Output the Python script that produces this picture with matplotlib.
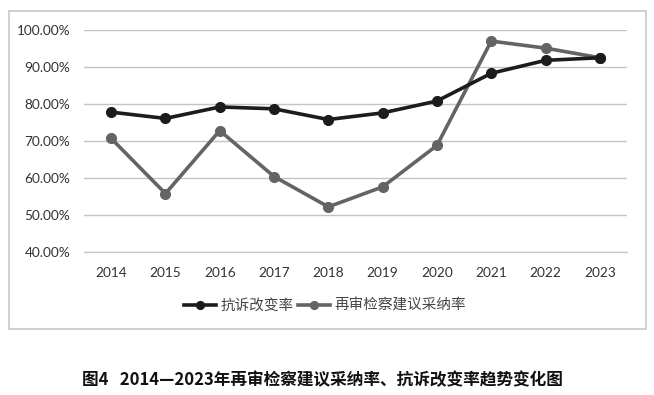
import matplotlib
matplotlib.use("Agg")
import matplotlib.pyplot as plt
from matplotlib.patches import Rectangle
from matplotlib.ticker import FuncFormatter

years = ["2014", "2015", "2016", "2017", "2018", "2019", "2020", "2021", "2022", "2023"]
kangsu = [77.8, 76.1, 79.2, 78.7, 75.8, 77.6, 80.8, 88.3, 91.8, 92.5]
zaishen = [70.7, 55.8, 72.8, 60.4, 52.2, 57.6, 68.8, 97.0, 95.1, 92.5]
name_kangsu = "抗诉改变率"
name_zaishen = "再审检察建议采纳率"
caption = "图4   2014—2023年再审检察建议采纳率、抗诉改变率趋势变化图"

fig = plt.figure(figsize=(6.54, 3.95), dpi=100)
fig.patch.set_facecolor("white")

# outer chart border
fig.patches.append(Rectangle((9/654, 1-329/395), (646-9)/654, (329-11)/395,
                             transform=fig.transFigure, fill=False,
                             edgecolor="#c8c8c8", linewidth=1.2))

ax = fig.add_axes([84/654, 1-252/395, (627-84)/654, (252-30)/395])
x = list(range(len(years)))
ax.plot(x, kangsu, color="#1c1c1c", linewidth=2.6, marker="o", markersize=7,
        label=name_kangsu, zorder=3)
ax.plot(x, zaishen, color="#646464", linewidth=2.6, marker="o", markersize=7,
        label=name_zaishen, zorder=2)

ax.set_xlim(-0.5, len(years) - 0.5)
ax.set_ylim(40, 100)
ax.set_yticks([40, 50, 60, 70, 80, 90, 100])
ax.yaxis.set_major_formatter(FuncFormatter(lambda v, p: f"{v:.2f}%"))
ax.set_xticks(x)
ax.set_xticklabels(years)
ax.grid(axis="y", color="#c4c4c4", linewidth=1.0)
ax.set_axisbelow(True)
for s in ["top", "right", "left"]:
    ax.spines[s].set_visible(False)
ax.spines["bottom"].set_color("#c4c4c4")
ax.tick_params(axis="both", length=0, labelsize=9.8, colors="#333333")
ax.tick_params(axis="y", pad=10)
ax.tick_params(axis="x", pad=11)
for lab in ax.get_xticklabels() + ax.get_yticklabels():
    lab.set_family(["Lato", "DejaVu Sans"])

leg = fig.legend(loc="center", bbox_to_anchor=(325/654, 1-306/395), ncol=2,
                 frameon=False, handlelength=2.2, columnspacing=0.3, handletextpad=0.3,
                 markerscale=0.8,
                 prop={"family": ["Noto Sans CJK SC", "DejaVu Sans"], "size": 10.5})
for t in leg.get_texts():
    t.set_color("#444444")

fig.text(322/654, 1-380/395, caption, ha="center", va="center", fontsize=12,
         fontweight="bold", family=["Noto Sans CJK SC", "DejaVu Sans"], color="#111111")

fig.savefig("out.png", dpi=100, facecolor="white")
